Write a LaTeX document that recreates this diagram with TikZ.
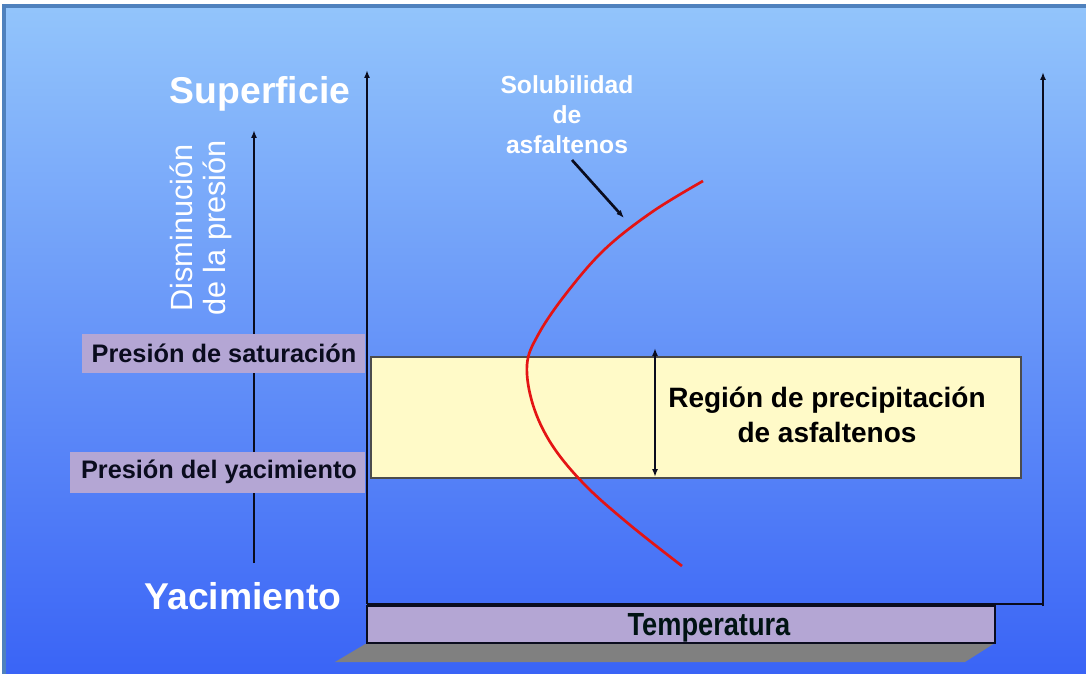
\documentclass[tikz,border=0pt]{standalone}
\usepackage{fontspec}
\setmainfont{Liberation Sans}
\usetikzlibrary{arrows.meta}
\definecolor{bgtop}{RGB}{146,196,251}
\definecolor{bgbot}{RGB}{58,100,246}
\definecolor{frame}{RGB}{79,129,189}
\definecolor{lav}{RGB}{180,166,212}
\definecolor{paleyel}{RGB}{255,250,200}
\definecolor{curvered}{RGB}{228,20,20}
\definecolor{shadowgray}{RGB}{128,128,128}
\definecolor{ink}{RGB}{10,12,30}
\tikzset{
  axis/.style={line width=2pt, draw=ink, -{Latex[length=6pt,width=4.5pt]}},
  labelbox/.style={fill=lav, draw=none, inner sep=0pt},
  labeltext/.style={font=\fontsize{19}{22}\selectfont\bfseries, text=ink},
  bigwhite/.style={font=\fontsize{28}{32}\selectfont\bfseries, text=white},
}
\begin{document}
\begin{tikzpicture}[x=0.75pt,y=-0.75pt]
\useasboundingbox (0,0) rectangle (1086,674);
\fill[white] (0,0) rectangle (1086,674);
\fill[frame] (2,4) rectangle (1086,674);
\shade[top color=bgtop, bottom color=bgbot] (6,9) rectangle (1086,674);

% pressure arrow (behind label boxes)
\coordinate (pbot) at (254,563);
\coordinate (ptop) at (254,130);
\draw[axis] (pbot) -- (ptop);

% label boxes
\node[labelbox, minimum width=212.25pt, minimum height=29.25pt] (satbox) at (223.5,353.5) {};
\node[labelbox, minimum width=221.25pt, minimum height=30.75pt] (yacbox) at (217.5,472.5) {};
\node[labeltext] (sat) at (224,353) {Presión de saturación};
\node[labeltext] (yac) at (219,472) {Presión del yacimiento};

% yellow region
\node[fill=paleyel, draw=black!70, line width=1pt, minimum width=487.5pt, minimum height=90.75pt, inner sep=0pt] (region) at (696,417.5) {};
\node[font=\fontsize{21}{26}\selectfont\bfseries, text=black, align=center] (regtext) at (827,415) {Región de precipitación\\de asfaltenos};

% axes
\coordinate (origin) at (367,604);
\coordinate (ytop) at (367,70);
\coordinate (corner) at (1043,606);
\coordinate (rtop) at (1043,72);
\coordinate (xend) at (1043,604);
\draw[axis] (origin) -- (ytop);
\draw[line width=2pt, draw=ink] (origin) -- (xend);
\draw[axis] (corner) -- (rtop);

% double arrow
\coordinate (dtop) at (655,348);
\coordinate (dbot) at (655,477);
\draw[line width=2pt, draw=ink, {Latex[length=6pt,width=4.5pt]}-{Latex[length=6pt,width=4.5pt]}] (dbot) -- (dtop);

% texts
\node[bigwhite] (sup) at (260,94) {Superficie};
\node[bigwhite] (yacim) at (243,596) {Yacimiento};
\node[font=\fontsize{23}{24.75}\selectfont, text=white, align=center, rotate=90] (dism) at (201,228) {Disminución\\de la presión};
\node[font=\fontsize{18.5}{22.5}\selectfont\bfseries, text=white, align=center] (sol) at (567,115) {Solubilidad\\de\\asfaltenos};

% red curve
\draw[curvered, line width=2pt] plot[smooth, tension=0.6] coordinates {(703,181) (652,212) (604,250) (565,295) (538,335) (527,365) (533,405) (552,445) (585,485) (630,525) (682,566)};

% pointer
\coordinate (ptail) at (572,160);
\coordinate (phead) at (624,218);
\draw[line width=2pt, draw=ink, -{Latex[length=6pt,width=4.5pt]}] (ptail) -- (phead);

% temperatura
\fill[shadowgray] (367,643) -- (995,643) -- (965,662) -- (335,662) -- cycle;
\node[fill=lav, draw=ink, line width=1pt, minimum width=471pt, minimum height=27.75pt, inner sep=0pt] (tbox) at (681,624.5) {};
\node[font=\fontsize{24}{28}\selectfont\bfseries, text=black!85!teal] (temp) at (709,628) {\scalebox{0.85}[1]{Temperatura}};
\end{tikzpicture}
\end{document}
